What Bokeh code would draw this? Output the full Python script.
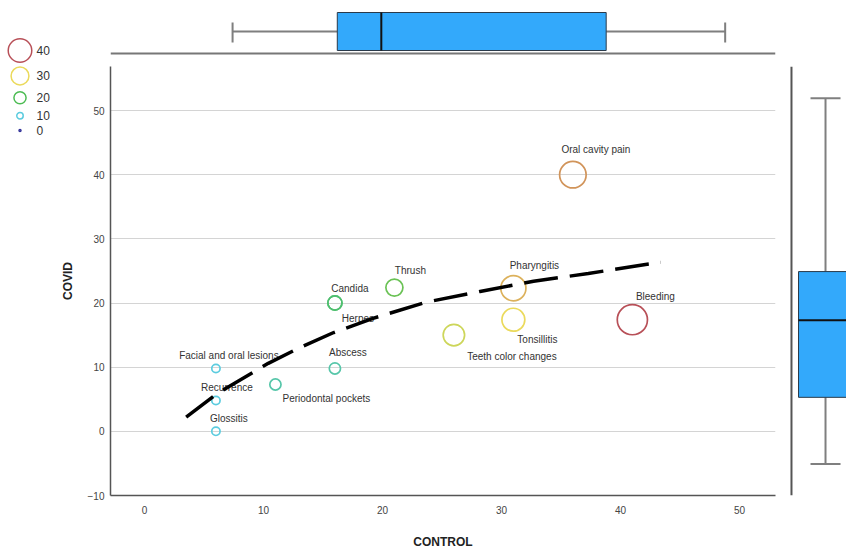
import numpy as np
from bokeh.plotting import figure
from bokeh.models import Range1d, FixedTicker, Span, ColumnDataSource, LinearColorMapper
from bokeh.layouts import row, column
from bokeh.transform import transform
from bokeh.core.properties import value
from bokeh.embed import file_html
from bokeh.resources import INLINE

# ---------------- data ----------------
names = ["Oral cavity pain", "Pharyngitis", "Tonsillitis", "Bleeding", "Teeth color changes",
         "Thrush", "Candida", "Herpes", "Abscess", "Facial and oral lesions", "Recurrence",
         "Periodontal pockets", "Glossitis"]
control = [36, 31, 31, 41, 26, 21, 16, 16, 16, 6, 6, 11, 6]
covid = [40, 22.3, 17.4, 17.4, 15, 22.4, 20, 20, 9.8, 9.8, 4.8, 7.3, 0]
freq = [35, 33, 30, 40, 28, 22, 18, 18, 14, 10, 10, 14, 10]

legend_values = [40, 30, 20, 10, 0]

fit_x = [3.5, 6.1, 10.4, 13.1, 15.9, 19.2, 23.6, 28.2, 32.7, 37.3, 42.1, 43.4]
fit_y = [2.2, 5.9, 10.6, 13.1, 15.4, 17.6, 20.1, 21.8, 23.4, 24.6, 26.0, 26.3]

control_box = [7.4, 16.2, 19.9, 38.8, 48.8]   # low whisker, q1, median, q3, high whisker
covid_box = [-5.1, 5.3, 17.3, 24.9, 51.9]

x_ticks = [0, 10, 20, 30, 40, 50]
y_ticks = [-10, 0, 10, 20, 30, 40, 50]

# label placement (screen px offsets from each point)
label_dx = [23, 21, 24, 23, 58, 16, 15, 23, 13, 13, 11, 51, 13]
label_dy = [-25, -23, 20, -23, 21, -17, -15, 15, -16, -13, -13, 14, -13]

# ---------------- styles ----------------
FONT = "Liberation Sans"
BOX_FILL = "#33a9fb"
WHISKER = "#7f7f7f"


def size_of(v):
    return 0.73 * np.asarray(v, dtype=float) + 1.0


def hex2rgb(h):
    return tuple(int(h[i:i + 2], 16) for i in (1, 3, 5))


stops = [0, 10, 20, 30, 40]
stop_cols = ["#34349a", "#5ccce0", "#4cbc54", "#ecdc5c", "#b85058"]
pal = []
for i in range(256):
    t = 40 * i / 255
    k = min(int(t // 10), 3)
    f = (t - stops[k]) / 10
    a, b = hex2rgb(stop_cols[k]), hex2rgb(stop_cols[k + 1])
    pal.append("#%02x%02x%02x" % tuple(int(round(a[j] + (b[j] - a[j]) * f)) for j in range(3)))
mapper = LinearColorMapper(palette=pal, low=0, high=40)

x_range = Range1d(-2.86, 53.03)
y_range = Range1d(-10, 56.86)

common = dict(toolbar_location=None, output_backend="svg", background_fill_color="white",
              border_fill_color="white")

# ---------------- main scatter ----------------
main = figure(width=728, height=493, x_range=x_range, y_range=y_range,
              min_border_left=53, min_border_right=10, min_border_top=8, min_border_bottom=56,
              **common)
main.outline_line_color = None
main.xgrid.visible = False
main.ygrid.grid_line_color = "#d4d4d4"
main.ygrid.grid_line_width = 1
main.xaxis.ticker = FixedTicker(ticks=x_ticks)
main.yaxis.ticker = FixedTicker(ticks=y_ticks)
for ax in (main.xaxis[0], main.yaxis[0]):
    ax.axis_line_color = "#555555"
    ax.axis_line_width = 1.5
    ax.major_tick_line_color = None
    ax.minor_tick_line_color = None
    ax.major_tick_out = 0
    ax.major_tick_in = 0
    ax.major_label_text_font = FONT
    ax.major_label_text_font_size = "10px"
    ax.major_label_text_color = "#444444"
    ax.axis_label_text_font = FONT
    ax.axis_label_text_font_size = "12px"
    ax.axis_label_text_font_style = "bold"
    ax.axis_label_text_color = "#222222"
main.xaxis.axis_label = "CONTROL"
main.yaxis.axis_label = "COVID"
main.xaxis.major_label_standoff = 10
main.xaxis.axis_label_standoff = 18
main.yaxis.major_label_standoff = 6
main.yaxis.axis_label_standoff = 10

src = ColumnDataSource(dict(x=control, y=covid, v=freq, size=size_of(freq), name=names,
                            dx=label_dx, dy=label_dy))
main.scatter(x="x", y="y", size="size", source=src, marker="circle", fill_color=None,
             line_color=transform("v", mapper), line_width=1.7)
main.text(x="x", y="y", text="name", x_offset="dx", y_offset="dy", source=src,
          text_font=value(FONT), text_font_size="10px", text_color="#333333",
          text_align="center", text_baseline="middle")
main.line(fit_x, fit_y, line_color="black", line_width=3.5, line_dash="34 12")

# ---------------- top boxplot (CONTROL) ----------------
top = figure(width=728, height=58, x_range=x_range, y_range=Range1d(0, 1),
             x_axis_type=None, y_axis_type=None,
             min_border_left=53, min_border_right=10, min_border_top=8, min_border_bottom=0,
             **common)
top.outline_line_color = None
top.grid.visible = False
lo, q1, md, q3, hi = control_box
yc = 0.54
top.segment(x0=[lo, q3], y0=[yc, yc], x1=[q1, hi], y1=[yc, yc], line_color=WHISKER, line_width=2)
top.segment(x0=[lo, hi], y0=[0.32, 0.32], x1=[lo, hi], y1=[0.72, 0.72], line_color=WHISKER, line_width=2)
top.hbar(y=[yc], height=0.76, left=[q1], right=[q3], fill_color=BOX_FILL, line_color="#2a3a4a",
         line_width=1)
top.segment(x0=[md], y0=[0.16], x1=[md], y1=[0.92], line_color="#111111", line_width=2)
top.add_layout(Span(location=0.1, dimension="width", line_color="#777777", line_width=2))

# ---------------- right boxplot (COVID) ----------------
right = figure(width=61, height=493, x_range=Range1d(0, 1), y_range=y_range,
               x_axis_type=None, y_axis_type=None,
               min_border_left=0, min_border_right=0, min_border_top=8, min_border_bottom=56,
               **common)
right.outline_line_color = None
right.grid.visible = False
lo, q1, md, q3, hi = covid_box
xc = 0.656
right.segment(x0=[xc, xc], y0=[lo, q3], x1=[xc, xc], y1=[q1, hi], line_color=WHISKER, line_width=2)
right.segment(x0=[0.41, 0.41], y0=[lo, hi], x1=[0.902, 0.902], y1=[lo, hi], line_color=WHISKER,
              line_width=2)
right.vbar(x=[xc], width=0.885, bottom=[q1], top=[q3], fill_color=BOX_FILL, line_color="#2a3a4a",
           line_width=1)
right.segment(x0=[0.213], y0=[md], x1=[1.2], y1=[md], line_color="#111111", line_width=2)
right.add_layout(Span(location=0.098, dimension="height", line_color="#555555", line_width=2))

# ---------------- size/colour legend ----------------
leg = figure(width=57, height=160, x_range=Range1d(-8, 49), y_range=Range1d(152, -8),
             x_axis_type=None, y_axis_type=None,
             min_border_left=0, min_border_right=0, min_border_top=0, min_border_bottom=0,
             **common)
leg.outline_line_color = None
leg.grid.visible = False
leg_sizes = np.maximum(0.78 * size_of(legend_values), 2.0)
leg_y = [42.0]
for i in range(len(leg_sizes) - 1):
    leg_y.append(leg_y[-1] + 0.65 * (leg_sizes[i] + leg_sizes[i + 1]) / 2 + 12)
lsrc = ColumnDataSource(dict(x=[11.5] * len(legend_values), tx=[28] * len(legend_values), y=leg_y,
                             v=legend_values, size=leg_sizes,
                             label=[str(v) for v in legend_values]))
leg.scatter(x="x", y="y", size="size", source=lsrc, marker="circle", fill_color=None,
            line_color=transform("v", mapper), line_width=1.5)
leg.text(x="tx", y="y", text="label", source=lsrc, text_font=value(FONT), text_font_size="12px",
         text_color="#333333", text_align="left", text_baseline="middle")

layout = row(leg, column(top, row(main, right)))

open("out.html", "w").write(file_html(layout, INLINE))
